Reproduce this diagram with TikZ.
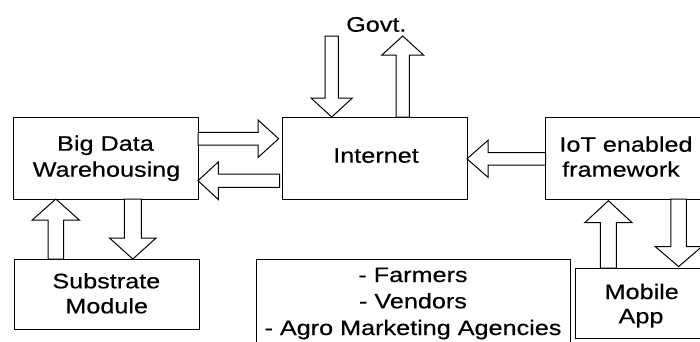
\documentclass[tikz,border=0pt]{standalone}
\usepackage{fontspec}
\setmainfont{Liberation Sans}[FakeStretch=1.2, FakeBold=0.4]
\usetikzlibrary{calc}
\tikzset{
  box/.style={draw, line width=1pt, inner sep=0pt, outer sep=0pt},
  lbl/.style={font=\fontsize{21pt}{26pt}\selectfont, inner sep=0pt, anchor=base},
  blockarrow/.style={draw, fill=white, line width=1pt, line join=miter},
}
% #1 start, #2 tip, #3 shaft half width, #4 head half width, #5 head length
\newcommand\blockarr[5]{%
  \coordinate (ba-s) at (#1);
  \coordinate (ba-t) at (#2);
  \coordinate (ba-c) at ($(ba-t)!#5!(ba-s)$);
  \draw[blockarrow] ($(ba-s)!#3!90:(ba-t)$) -- ($(ba-c)!#3!-90:(ba-s)$)
    -- ($(ba-c)!#4!-90:(ba-s)$) -- (ba-t) -- ($(ba-c)!#4!90:(ba-s)$)
    -- ($(ba-c)!#3!90:(ba-s)$) -- ($(ba-s)!#3!-90:(ba-t)$) -- cycle;
}
\begin{document}
\begin{tikzpicture}[x=1pt, y=-1pt]
\useasboundingbox (0,0) rectangle (700,341);
% boxes
\node[box, minimum width=185pt, minimum height=82pt] (bd) at (105.5,158) {};
\node[box, minimum width=185pt, minimum height=82pt] (inet) at (374.5,158) {};
\node[box, minimum width=184pt, minimum height=82pt] (iot) at (637.7,158) {};
\node[box, minimum width=185pt, minimum height=70pt] (sub) at (106.5,294) {};
\node[box, minimum width=314pt, minimum height=110pt] (farm) at (413.7,314.7) {};
\node[box, minimum width=150pt, minimum height=70.4pt] (mob) at (650,303.3) {};
% texts
\node[lbl] (bdA) at (105.5,150.7) {Big Data};
\node[lbl] (bdB) at (106.5,176.7) {Warehousing};
\node[lbl] (inetA) at (376,162.7) {Internet};
\node[lbl] (iotA) at (626,151.7) {IoT enabled};
\node[lbl] (iotB) at (621,176.7) {framework};
\node[lbl] (subA) at (106.3,288.3) {Substrate};
\node[lbl] (subB) at (106.7,313.3) {Module};
\node[lbl] (govt) at (376.3,31.7) {Govt.};
\node[lbl] (farmA) at (413,282) {- Farmers};
\node[lbl] (farmB) at (413,308.3) {- Vendors};
\node[lbl] (farmC) at (413,335) {- Agro Marketing Agencies};
\node[lbl] (mobA) at (641.7,299) {Mobile};
\node[lbl] (mobB) at (641,323.3) {App};
% block arrows
\blockarr{bd.east |- 0,138.7}{$(inet.west |- 0,138.7)+(-3.4,0)$}{6.4pt}{18.8pt}{20.6pt}
\blockarr{$(inet.west |- 0,180.7)+(-2.4,0)$}{bd.east |- 0,180.7}{6.7pt}{18.8pt}{20.3pt}
\blockarr{iot.west |- 0,158.8}{inet.east |- 0,158.8}{6.2pt}{18.5pt}{21pt}
\blockarr{$(govt.base -| 331.7,0)+(0,4.3)$}{inet.north -| 331.7,0}{6.7pt}{20.7pt}{19pt}
\blockarr{inet.north -| 402.7,0}{$(govt.base -| 402.7,0)+(0,4.3)$}{6.7pt}{20.8pt}{19pt}
\blockarr{bd.south -| 132.8,0}{sub.north -| 132.8,0}{8.5pt}{23.3pt}{21pt}
\blockarr{sub.north -| 55.8,0}{bd.south -| 55.8,0}{7.8pt}{23.5pt}{21pt}
\blockarr{iot.south -| 678.6,0}{$(mob.north -| 678.6,0)+(0,-1.5)$}{7.8pt}{23.3pt}{20pt}
\blockarr{mob.north -| 608.4,0}{$(iot.south -| 608.4,0)+(0,1.7)$}{8pt}{23.7pt}{22pt}
\end{tikzpicture}
\end{document}
